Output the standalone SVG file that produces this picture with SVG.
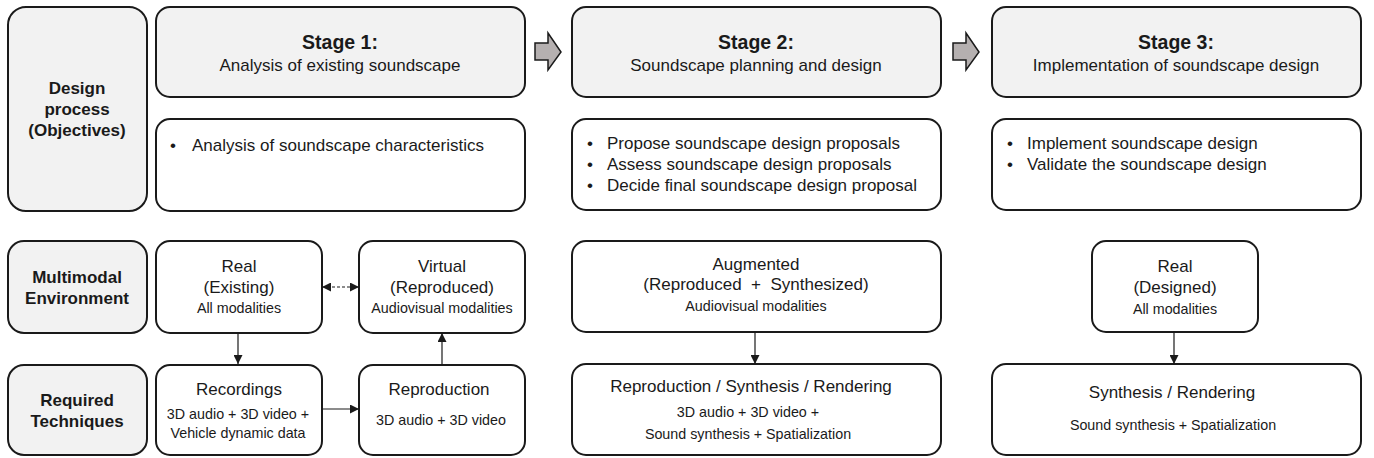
<svg xmlns="http://www.w3.org/2000/svg" width="1374" height="458" viewBox="0 0 1374 458">
<style>
.box{fill:#ffffff;stroke:#1a1a1a;stroke-width:2}
.gray{fill:#f2f2f2;stroke:#1a1a1a;stroke-width:2}
text{font-family:"Liberation Sans",Arial,sans-serif;fill:#1a1a1a}
.lbl{font-size:17px;font-weight:bold;text-anchor:middle}
.st{font-size:19.5px;font-weight:bold;text-anchor:middle}
.sub{font-size:17px;text-anchor:middle}
.bul{font-size:17px}
.t{font-size:17px;text-anchor:middle}
.s{font-size:14.3px;text-anchor:middle}
.ln{stroke:#1a1a1a;stroke-width:1.2;fill:none}
.flow{fill:#b5b0b0;stroke:#1a1a1a;stroke-width:1.5}
</style>
<defs>
<marker id="ah" viewBox="0 0 10 10" refX="10" refY="5" markerWidth="9" markerHeight="9" markerUnits="userSpaceOnUse" orient="auto-start-reverse">
<path d="M0,0 L10,5 L0,10 z" fill="#1a1a1a"/>
</marker>
</defs>
<rect width="1374" height="458" fill="#ffffff"/>

<g id="design-process">
<rect class="gray" x="8" y="7" width="139" height="204" rx="18"/>
<text class="lbl" x="77" y="94">Design</text>
<text class="lbl" x="77" y="115">process</text>
<text class="lbl" x="77" y="136">(Objectives)</text>
</g>
<g id="multimodal-environment">
<rect class="gray" x="8" y="241" width="139" height="92" rx="16"/>
<text class="lbl" x="77" y="283">Multimodal</text>
<text class="lbl" x="77" y="304">Environment</text>
</g>
<g id="required-techniques">
<rect class="gray" x="8" y="365" width="139" height="90" rx="16"/>
<text class="lbl" x="77" y="406">Required</text>
<text class="lbl" x="77" y="427">Techniques</text>
</g>

<g id="stage1">
<rect class="gray" x="156" y="7" width="369" height="90" rx="14"/>
<text class="st" x="340" y="49">Stage 1:</text>
<text class="sub" x="340" y="71">Analysis of existing soundscape</text>
</g>
<g id="stage1-objectives">
<rect class="box" x="156" y="119" width="369" height="92" rx="14"/>
<text class="bul" x="170" y="151">•</text>
<text class="bul" x="192" y="151">Analysis of soundscape characteristics</text>
</g>
<g id="stage2">
<rect class="gray" x="572" y="7" width="369" height="90" rx="14"/>
<text class="st" x="756" y="49">Stage 2:</text>
<text class="sub" x="756" y="71">Soundscape planning and design</text>
</g>
<g id="stage2-objectives">
<rect class="box" x="572" y="119" width="369" height="91" rx="14"/>
<text class="bul" x="587" y="149">•</text>
<text class="bul" x="607" y="149">Propose soundscape design proposals</text>
<text class="bul" x="587" y="170">•</text>
<text class="bul" x="607" y="170">Assess soundscape design proposals</text>
<text class="bul" x="587" y="191">•</text>
<text class="bul" x="607" y="191">Decide final soundscape design proposal</text>
</g>
<g id="stage3">
<rect class="gray" x="992" y="7" width="369" height="90" rx="14"/>
<text class="st" x="1176" y="49">Stage 3:</text>
<text class="sub" x="1176" y="71">Implementation of soundscape design</text>
</g>
<g id="stage3-objectives">
<rect class="box" x="992" y="119" width="369" height="91" rx="14"/>
<text class="bul" x="1007" y="149">•</text>
<text class="bul" x="1027" y="149">Implement soundscape design</text>
<text class="bul" x="1007" y="170">•</text>
<text class="bul" x="1027" y="170">Validate the soundscape design</text>
</g>

<g id="real-existing">
<rect class="box" x="156" y="241" width="166" height="92" rx="14"/>
<text class="t" x="239" y="272">Real</text>
<text class="t" x="239" y="293">(Existing)</text>
<text class="s" x="239" y="313">All modalities</text>
</g>
<g id="virtual">
<rect class="box" x="359" y="241" width="166" height="92" rx="14"/>
<text class="t" x="442" y="272">Virtual</text>
<text class="t" x="442" y="293">(Reproduced)</text>
<text class="s" x="442" y="313">Audiovisual modalities</text>
</g>
<g id="augmented">
<rect class="box" x="572" y="241" width="369" height="91" rx="14"/>
<text class="t" x="756" y="270">Augmented</text>
<text class="t" x="756" y="290" xml:space="preserve">(Reproduced  +  Synthesized)</text>
<text class="s" x="756" y="311">Audiovisual modalities</text>
</g>
<g id="real-designed">
<rect class="box" x="1092" y="241" width="166" height="91" rx="14"/>
<text class="t" x="1175" y="272">Real</text>
<text class="t" x="1175" y="293">(Designed)</text>
<text class="s" x="1175" y="314">All modalities</text>
</g>

<g id="recordings">
<rect class="box" x="156" y="365" width="166" height="90" rx="14"/>
<text class="t" x="239" y="395">Recordings</text>
<text class="s" x="238" y="419">3D audio + 3D video +</text>
<text class="s" x="238" y="438">Vehicle dynamic data</text>
</g>
<g id="reproduction">
<rect class="box" x="359" y="365" width="166" height="90" rx="14"/>
<text class="t" x="439" y="395">Reproduction</text>
<text class="s" x="441" y="425">3D audio + 3D video</text>
</g>
<g id="repro-synth-render">
<rect class="box" x="572" y="364" width="369" height="91" rx="14"/>
<text class="t" x="751" y="392">Reproduction / Synthesis / Rendering</text>
<text class="s" x="748" y="417">3D audio + 3D video +</text>
<text class="s" x="748" y="439">Sound synthesis + Spatialization</text>
</g>
<g id="synth-render">
<rect class="box" x="992" y="364" width="369" height="91" rx="14"/>
<text class="t" x="1172" y="398">Synthesis / Rendering</text>
<text class="s" x="1173" y="430">Sound synthesis + Spatialization</text>
</g>

<g id="connectors">
<path class="flow" d="M535,43 H548 V33 L561,52 L548,70 V60 H535 Z"/>
<path class="flow" d="M953,43 H966 V33 L979,52 L966,70 V60 H953 Z"/>
<line class="ln" x1="238" y1="333" x2="238" y2="364" marker-end="url(#ah)"/>
<line class="ln" x1="322" y1="409" x2="359" y2="409" marker-end="url(#ah)"/>
<line class="ln" x1="442" y1="365" x2="442" y2="333" marker-end="url(#ah)"/>
<line class="ln" x1="322" y1="287" x2="359" y2="287" stroke-dasharray="3,2" marker-start="url(#ah)" marker-end="url(#ah)"/>
<line class="ln" x1="755" y1="332" x2="755" y2="364" marker-end="url(#ah)"/>
<line class="ln" x1="1174" y1="332" x2="1174" y2="364" marker-end="url(#ah)"/>
</g>
</svg>
